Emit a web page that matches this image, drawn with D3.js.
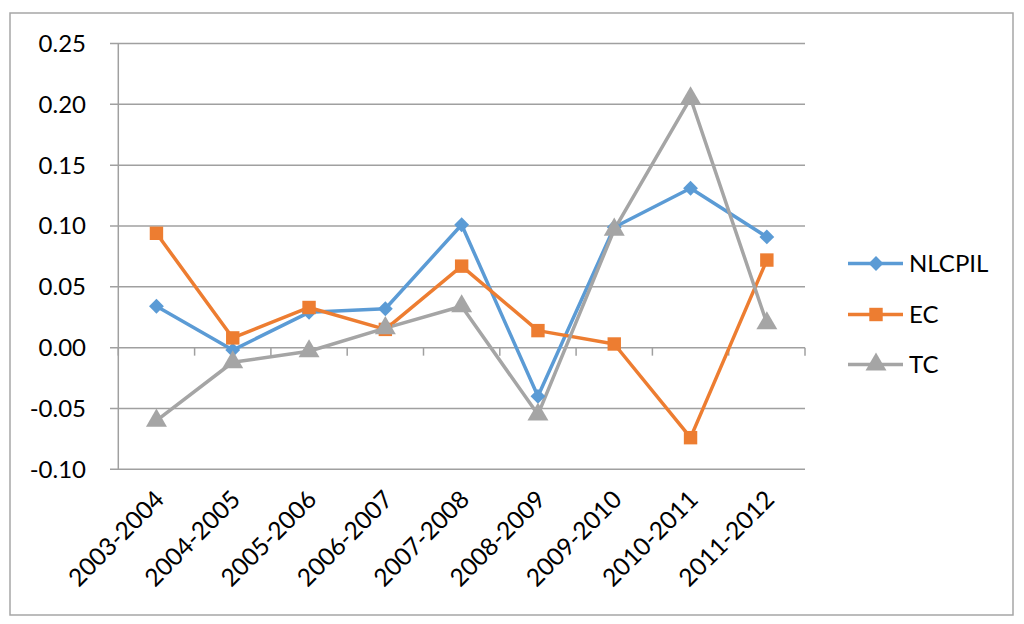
<!DOCTYPE html>
<html><head><meta charset="utf-8">
<script src="https://cdn.jsdelivr.net/npm/d3@7"></script>
<style>body{margin:0;background:#fff}</style>
</head><body><svg id="c" width="1024" height="624"></svg>
<script>
const categories = ["2003-2004","2004-2005","2005-2006","2006-2007","2007-2008","2008-2009","2009-2010","2010-2011","2011-2012"];
const nlcpil = [0.034,-0.002,0.029,0.032,0.101,-0.040,0.099,0.131,0.091];
const ec = [0.094,0.008,0.033,0.015,0.067,0.014,0.003,-0.074,0.072];
const tc = [-0.060,-0.012,-0.003,0.016,0.034,-0.055,0.097,0.205,0.020];
const yTicks = [-0.10,-0.05,0.00,0.05,0.10,0.15,0.20,0.25];
const yTickLabels = ["-0.10","-0.05","0.00","0.05","0.10","0.15","0.20","0.25"];
const seriesNames = ["NLCPIL","EC","TC"];
const colors = ["#5B9BD5","#ED7D31","#A5A5A5"];
const symbols = [d3.symbolSquare, d3.symbolSquare, d3.symbolTriangle];
const rotations = [45, 0, 0];

const svg = d3.select("#c");
const font = "Lato, 'Open Sans', sans-serif";
svg.append("rect").attr("x",10).attr("y",13).attr("width",1003).attr("height",602)
  .attr("fill","#fff").attr("stroke","#a6a6a6").attr("stroke-width",1.5);

const x = d3.scaleBand().domain(categories).range([118.3,805]);
const y = d3.scaleLinear().domain([-0.10,0.25]).range([469.3,43.5]);

// gridlines
svg.append("g").selectAll("line").data(yTicks).join("line")
  .attr("x1",110).attr("x2",805).attr("y1",d=>y(d)).attr("y2",d=>y(d))
  .attr("stroke","#a0a0a0").attr("stroke-width",1.5);
// y axis line
svg.append("line").attr("x1",118.3).attr("x2",118.3).attr("y1",y(0.25)).attr("y2",y(-0.10))
  .attr("stroke","#a0a0a0").attr("stroke-width",1.5);
// y labels
svg.append("g").selectAll("text").data(yTicks).join("text")
  .attr("x",86).attr("y",d=>y(d)).attr("dy","0.35em").attr("text-anchor","end")
  .attr("font-family",font).attr("font-size",24).attr("fill","#000")
  .text((d,i)=>yTickLabels[i]);
// x axis ticks at band boundaries
const bounds = categories.map(c=>x(c)).concat([x.range()[1]]);
svg.append("g").selectAll("line").data(bounds).join("line")
  .attr("x1",d=>d).attr("x2",d=>d).attr("y1",y(0)).attr("y2",y(0)+8)
  .attr("stroke","#a0a0a0").attr("stroke-width",1.5);
// x labels
svg.append("g").selectAll("text").data(categories).join("text")
  .attr("transform",d=>`translate(${x(d)+x.bandwidth()/2+3},${495}) rotate(-45)`)
  .attr("text-anchor","end").attr("dy","0.35em")
  .attr("font-family",font).attr("font-size",24.5).attr("fill","#000")
  .text(d=>d);

const data = [nlcpil, ec, tc];
const sizes = [110, 180, 190];
data.forEach((vals,i)=>{
  const line = d3.line().x((d,j)=>x(categories[j])+x.bandwidth()/2).y(d=>y(d));
  svg.append("path").datum(vals).attr("d",line).attr("fill","none")
    .attr("stroke",colors[i]).attr("stroke-width",3.5).attr("stroke-linejoin","round");
});
data.forEach((vals,i)=>{
  svg.append("g").selectAll("path").data(vals).join("path")
    .attr("d",d3.symbol().type(symbols[i]).size(sizes[i]))
    .attr("transform",(d,j)=>`translate(${x(categories[j])+x.bandwidth()/2},${y(d)}) rotate(${rotations[i]})`)
    .attr("fill",colors[i]);
});
// legend
const ly = [263.5, 314.5, 364.5];
seriesNames.forEach((n,i)=>{
  const g = svg.append("g");
  g.append("line").attr("x1",848).attr("x2",903).attr("y1",ly[i]).attr("y2",ly[i])
    .attr("stroke",colors[i]).attr("stroke-width",3.5);
  g.append("path").attr("d",d3.symbol().type(symbols[i]).size(sizes[i]))
    .attr("transform",`translate(876,${ly[i]}) rotate(${rotations[i]})`).attr("fill",colors[i]);
  g.append("text").attr("x",909).attr("y",ly[i]).attr("dy","0.35em")
    .attr("font-family",font).attr("font-size",24).attr("fill","#000").text(n);
});
</script></body></html>
